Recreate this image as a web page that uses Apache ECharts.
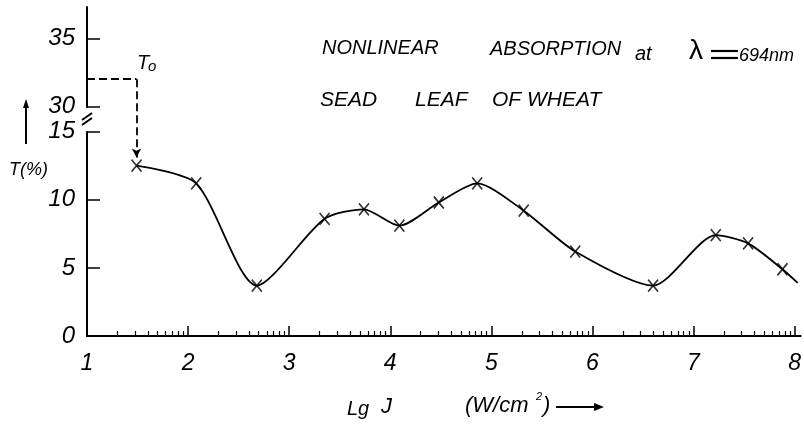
<!DOCTYPE html>
<html><head><meta charset="utf-8">
<script src="https://cdn.jsdelivr.net/npm/echarts@6/dist/echarts.min.js"></script>
<style>html,body{margin:0;padding:0;background:#fff}#c{width:804px;height:424px}</style>
</head><body><div id="c"></div>
<script>
// ---- data ----
const xTickValues = [1, 2, 3, 4, 5, 6, 7, 8];
const yTickValues = [0, 5, 10, 15, 30, 35];
const pointsLgJ = [1.49, 2.08, 2.68, 3.35, 3.74, 4.09, 4.48, 4.86, 5.32, 5.83, 6.60, 7.22, 7.54, 7.88];
const pointsT   = [12.5, 11.2, 3.7, 8.6, 9.3, 8.1, 9.8, 11.2, 9.2, 6.2, 3.7, 7.4, 6.8, 4.9];
const curveEndLgJ = [8.03];
const curveEndT = [3.9];
const T0 = 32;
const breakStart = 15, breakEnd = 30;

// minor (log) ticks within each decade
const minorTicks = [];
for (let d = 1; d < 8; d++) for (let k = 2; k <= 9; k++) minorTicks.push(+(d + Math.log10(k)).toFixed(4));

const pts = pointsLgJ.map((x, i) => [x, pointsT[i]]);
const curve = pts.concat(curveEndLgJ.map((x, i) => [x, curveEndT[i]]));

const FONT = 'Liberation Sans';
const chart = echarts.init(document.getElementById('c'), null, {renderer: 'canvas'});
const option = {
  backgroundColor: '#fff',
  animation: false,
  grid: {left: 87, right: 1, top: 7, bottom: 88, containLabel: false},
  xAxis: [{
    type: 'value', min: 1, max: 8.06,
    axisLine: {show: true, onZero: false, lineStyle: {color: '#000', width: 2}},
    axisTick: {show: true, inside: true, length: 10, lineStyle: {color: '#000', width: 1.5}, customValues: xTickValues},
    axisLabel: {show: true, customValues: xTickValues, margin: 16, color: '#000',
      fontFamily: FONT, fontStyle: 'italic', fontSize: 23},
    splitLine: {show: false}
  }, {
    type: 'value', min: 1, max: 8.06, position: 'bottom',
    axisLine: {show: false, onZero: false},
    axisTick: {show: true, inside: true, length: 5, lineStyle: {color: '#000', width: 1.2}, customValues: minorTicks},
    axisLabel: {show: false},
    splitLine: {show: false}
  }],
  yAxis: {
    type: 'value', min: 0, max: 37.3,
    breaks: [{start: breakStart, end: breakEnd, gap: 1.85}],
    breakArea: {show: false, itemStyle: {opacity: 0}, zigzagAmplitude: 0},
    breakLabelLayout: {moveOverlap: false},
    axisLine: {show: true, lineStyle: {color: '#000', width: 2}},
    axisTick: {show: true, inside: true, length: 13, lineStyle: {color: '#000', width: 1.5}, customValues: yTickValues},
    axisLabel: {show: true, customValues: yTickValues, margin: 12, color: '#000',
      fontFamily: FONT, fontStyle: 'italic', fontSize: 24},
    splitLine: {show: false}
  },
  series: [{
    type: 'line', data: curve, smooth: 0.25, showSymbol: false, silent: true,
    lineStyle: {color: '#000', width: 1.8},
    markLine: {
      silent: true, symbol: ['none', 'none'],
      lineStyle: {color: '#000', width: 1.8, type: [8, 4]},
      label: {show: false},
      data: [
        [{coord: [1, T0]}, {coord: [pointsLgJ[0], T0]}],
        [{coord: [pointsLgJ[0], T0]}, {coord: [pointsLgJ[0], pointsT[0] + 0.6], symbol: 'arrow', symbolSize: [7, 9]}]
      ]
    }
  }, {
    type: 'scatter', data: pts, silent: true,
    symbol: 'path://M0,0L10,12M10,0L0,12', symbolSize: [10, 12],
    itemStyle: {color: 'none', borderColor: '#000', borderWidth: 1.7}
  }]
};
chart.setOption(option);

// annotations
const p15 = chart.convertToPixel({yAxisIndex: 0}, breakStart);
const p30 = chart.convertToPixel({yAxisIndex: 0}, breakEnd);
const ax = chart.convertToPixel({xAxisIndex: 0}, 1);
const bm = (p15 + p30) / 2;
const t = (x, y, s, size, extra) => Object.assign({type: 'text', x, y,
  style: {text: s, fill: '#000', font: 'italic ' + size + 'px "' + FONT + '"', textVerticalAlign: 'middle'}}, extra || {});
chart.setOption({graphic: [
  t(322, 48, 'NONLINEAR', 20),
  t(490, 49, 'ABSORPTION', 20),
  t(635, 54, 'at', 20),
  {type: 'text', x: 689, y: 51, style: {text: 'λ', fill: '#000', font: '28px "' + FONT + '"', textVerticalAlign: 'middle'}},
  {type: 'line', shape: {x1: 711, y1: 51, x2: 738, y2: 51}, style: {stroke: '#000', lineWidth: 2.2}},
  {type: 'line', shape: {x1: 711, y1: 58, x2: 738, y2: 58}, style: {stroke: '#000', lineWidth: 2.2}},
  t(739, 56, '694nm', 18),
  t(320, 100, 'SEAD', 21),
  t(415, 100, 'LEAF', 21),
  t(492, 100, 'OF WHEAT', 21),
  t(137, 63, 'T', 20),
  t(148, 67, 'o', 15),
  t(9, 170, 'T(%)', 18),
  t(347, 409, 'Lg', 20),
  t(381, 407, 'J', 22),
  t(465, 406, '(W/cm', 22),
  t(536, 397, '2', 11),
  t(543, 406, ')', 22),
  {type: 'line', shape: {x1: 556, y1: 407, x2: 596, y2: 407}, style: {stroke: '#000', lineWidth: 2}},
  {type: 'polygon', shape: {points: [[604, 407], [594, 403], [594, 411]]}, style: {fill: '#000'}},
  {type: 'line', shape: {x1: 26, y1: 144, x2: 26, y2: 106}, style: {stroke: '#000', lineWidth: 2}},
  {type: 'polygon', shape: {points: [[26, 99], [23, 108], [29, 108]]}, style: {fill: '#000'}},
  {type: 'rect', shape: {x: ax - 4, y: bm - 3, width: 8, height: 6}, style: {fill: '#fff'}},
  {type: 'line', shape: {x1: ax - 5, y1: bm + 1, x2: ax + 5, y2: bm - 6}, style: {stroke: '#000', lineWidth: 2}},
  {type: 'line', shape: {x1: ax - 5, y1: bm + 6, x2: ax + 5, y2: bm - 1}, style: {stroke: '#000', lineWidth: 2}}
]});
</script></body></html>
